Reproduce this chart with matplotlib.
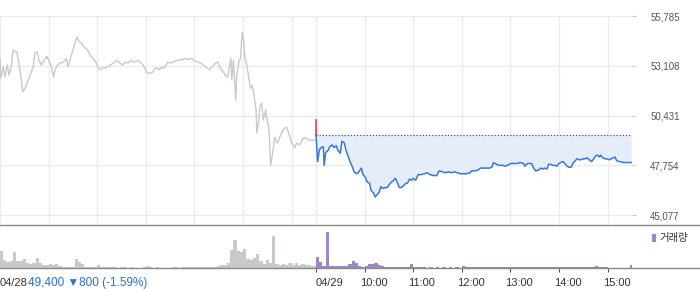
import matplotlib
matplotlib.use("Agg")
import matplotlib.pyplot as plt
from matplotlib.lines import Line2D
from matplotlib.ticker import FuncFormatter

plt.rcParams['font.family'] = ['Liberation Sans', 'DejaVu Sans', 'Noto Sans CJK KR']

# ---- data (minutes since 09:00 of 04/28; 04/29 starts at 390) ----
prev_min = [0, 1, 4, 6, 9, 11, 14, 16, 19, 21, 24, 26, 28, 31, 35, 38, 41, 43, 46, 48,
            51, 53, 56, 58, 61, 63, 66, 68, 71, 74, 78, 82, 84, 87, 90, 93, 95, 98, 100, 104,
            108, 111, 115, 119, 121, 124, 127, 131, 136, 140, 144, 147, 151, 155, 158, 162, 166, 170, 173, 177,
            181, 184, 188, 192, 196, 199, 203, 207, 210, 214, 218, 222, 225, 229, 233, 236, 240, 244, 248, 251,
            255, 259, 262, 266, 269, 271, 273, 276, 278, 281, 283, 285, 286, 288, 291, 292, 295, 297, 298, 299,
            301, 302, 304, 307, 309, 311, 313, 316, 317, 319, 321, 323, 325, 328, 329, 332, 334, 337, 339, 342,
            344, 348, 351, 354, 356, 360, 364, 366, 370, 374, 377, 381, 386, 389]
prev_price = [53500, 52450, 53050, 52500, 53150, 52600, 53050, 53950, 53850, 53850, 53050, 52500, 51700, 51900, 52350, 52700, 53050, 53800, 53850, 53400,
              53150, 53300, 53500, 53600, 53300, 53150, 52500, 52900, 53150, 53250, 53300, 53500, 53050, 53500, 53950, 54400, 54650, 54400, 54350, 54100,
              53950, 53700, 53500, 53250, 53000, 52900, 53000, 53000, 53150, 53250, 53400, 53300, 53150, 53300, 53250, 53400, 53300, 53400, 53300, 53150,
              52750, 52700, 52750, 53000, 52900, 53000, 53000, 53300, 53250, 53300, 53400, 53400, 53450, 53500, 53450, 53500, 53400, 53300, 53250, 53150,
              53000, 52900, 53050, 53250, 53300, 53050, 52900, 52750, 52600, 52500, 53050, 53500, 52350, 53400, 51250, 52500, 53400, 53500, 54350, 54900,
              54350, 53600, 53250, 52500, 51900, 52050, 51650, 50750, 49500, 50050, 50900, 51100, 50200, 50750, 50350, 49650, 47750, 48550, 49250, 48950,
              49100, 49550, 49750, 49800, 49500, 48950, 48700, 48950, 48850, 49200, 49250, 49100, 49100, 49100]

today_min = [390, 392, 394, 396, 399, 400, 402, 405, 407, 410, 412, 415, 417, 420, 422, 425, 427, 430, 432, 435,
             437, 440, 442, 446, 448, 451, 453, 456, 458, 461, 463, 465, 468, 470, 473, 475, 478, 480, 483, 485,
             488, 490, 493, 495, 498, 500, 503, 505, 508, 510, 513, 516, 520, 524, 527, 531, 535, 539, 542, 546,
             550, 553, 557, 561, 564, 568, 572, 576, 580, 582, 586, 590, 593, 597, 600, 604, 607, 609, 613, 616,
             620, 624, 628, 631, 635, 639, 642, 646, 648, 651, 653, 656, 658, 661, 665, 667, 670, 672, 675, 677,
             680, 682, 685, 687, 690, 692, 695, 697, 700, 702, 705, 707, 710, 712, 715, 717, 720, 722, 725, 727,
             730, 732, 735, 737, 740, 741, 744, 747, 749, 752, 754, 757, 759, 761, 764, 766, 769, 772, 779]
today_price = [49400, 47950, 48550, 48700, 48750, 47750, 48450, 48550, 48750, 48850, 48700, 48800, 48550, 48400, 49050, 48950, 48550, 48200, 47950, 47650,
               47400, 47300, 47350, 47600, 47250, 47100, 46850, 46800, 46400, 46250, 46050, 46150, 46300, 46600, 46500, 46550, 46550, 46700, 46850, 46900,
               47050, 46850, 46550, 46550, 46650, 46750, 46800, 47000, 46950, 47050, 46950, 47250, 47250, 47300, 47350, 47250, 47200, 47200, 47450, 47400,
               47350, 47400, 47350, 47400, 47350, 47300, 47300, 47300, 47350, 47450, 47450, 47500, 47600, 47600, 47600, 47600, 47650, 47900, 47800, 47750,
               47750, 47700, 47800, 47850, 47850, 47850, 47900, 47850, 47700, 47850, 47850, 47850, 47650, 47450, 47500, 47600, 47550, 47600, 47550, 47800,
               47800, 47750, 47750, 47700, 47850, 47900, 47950, 47850, 47700, 47650, 47650, 47850, 48000, 48100, 48050, 48050, 48100, 48100, 48150, 48050,
               47950, 48050, 48250, 48300, 48200, 48300, 48150, 48100, 48100, 48050, 48100, 48150, 48200, 48000, 47950, 47950, 47900, 47900, 47900]

first_tick = [49400, 50200]   # opening spike on 04/29
base_price = 49400

# volume per 4-minute bucket
prev_vol = [170, 80, 60, 70, 160, 70, 70, 90, 50, 40, 50, 100, 50, 30, 30, 40, 30, 40, 20, 15,
            15, 10, 15, 90, 60, 40, 15, 10, 10, 10, 30, 10, 8, 8, 8, 8, 5, 10, 10, 5,
            10, 5, 5, 5, 8, 20, 8, 5, 8, 5, 5, 5, 5, 8, 10, 5, 8, 10, 10, 8,
            10, 8, 10, 8, 10, 10, 10, 20, 30, 30, 50, 180, 280, 170, 160, 190, 90, 80, 100, 140,
            70, 40, 80, 50, 320, 40, 30, 40, 30, 50, 30, 50, 30, 40, 30, 30, 25, 20]
today_vol = [110, 60, 20, 360, 25, 20, 20, 25, 20, 25, 40, 70, 50, 20, 15, 20, 45, 40, 55, 35,
             20, 15, 15, 10, 10, 10, 10, 15, 10, 45, 10, 10, 10, 8, 5, 10, 5, 10, 5, 10,
             5, 10, 5, 10, 5, 20, 10, 15, 15, 10, 10, 10, 15, 10, 15, 10, 10, 10, 15, 10,
             10, 10, 15, 10, 15, 10, 10, 10, 15, 10, 15, 10, 15, 10, 15, 10, 10, 15, 15, 10,
             15, 10, 15, 10, 15, 15, 20, 15, 10, 10, 5, 5, 5, 5, 5, 0, 0, 30]

y_ticks = [45077, 47754, 50431, 53108, 55785]
hour_ticks = [450, 510, 570, 630, 690, 750]
hour_labels = ['10:00', '11:00', '12:00', '13:00', '14:00', '15:00']
summary = '49,400 ▼800 (-1.59%)'

W, H = 700, 289
fig = plt.figure(figsize=(7, 2.89), dpi=100)

# ---- price panel ----
ax = fig.add_axes([0, 1 - 225 / H, 632 / W, 209 / H])
ax.set_xlim(0, 780)
ax.set_ylim(44539, 55785)
ax.set_xticks([0, 60, 120, 180, 240, 300, 360, 390] + hour_ticks)
ax.set_yticks(y_ticks)
ax.grid(True, color='#ebebeb', lw=1)
ax.set_axisbelow(True)
for s in ax.spines.values():
    s.set_visible(False)
ax.yaxis.tick_right()
ax.yaxis.set_major_formatter(FuncFormatter(lambda v, p: f'{int(v):,}'))
ax.tick_params(axis='y', length=3, color='#cccccc', labelsize=7, labelcolor='#555555', pad=10)
ax.tick_params(axis='x', length=0, labelbottom=False)

ax.plot(prev_min, prev_price, color='#c8c9cd', lw=1)
ax.fill_between(today_min, today_price, base_price, color='#e5edf9', lw=0)
ax.hlines(base_price, 390, 780, colors='#555555', linestyles=(0, (1, 1.5)), lw=0.9)
ax.plot(today_min, today_price, color='#3778dc', lw=1.1)
ax.plot([390, 390], first_tick, color='#ff2a2a', lw=1.1)

# ---- volume panel ----
axv = fig.add_axes([0, 1 - 268 / H, 632 / W, 40 / H])
axv.set_xlim(0, 780)
axv.set_ylim(0, 400)
prev_t = [4 * i + 2 for i in range(len(prev_vol))]
today_t = [390 + 4 * i + 2 for i in range(len(today_vol))]
axv.bar(prev_t, prev_vol, width=4, color='#c8c9cc', lw=0)
axv.bar(today_t, today_vol, width=4, color='#9b87c9', lw=0)
for s in axv.spines.values():
    s.set_visible(False)
axv.set_yticks([])
axv.set_xticks([390] + hour_ticks)
axv.tick_params(axis='x', length=3, color='#555555', labelbottom=False)

for t, lab in zip(hour_ticks, hour_labels):
    axv.annotate(lab, xy=(t, 0), xycoords=('data', 'axes fraction'), xytext=(-5, -15),
                 textcoords='offset pixels', ha='left', va='center', fontsize=8, color='#333333')
axv.annotate('04/29', xy=(390, 0), xycoords=('data', 'axes fraction'), xytext=(0, -15),
             textcoords='offset pixels', ha='left', va='center', fontsize=8, color='#333333')
fig.text(0, 1 - 283 / H, '04/28', ha='left', va='center', fontsize=8, color='#333333')
fig.text(28 / W, 1 - 283 / H, summary, ha='left', va='center', fontsize=8.5, color='#2a6fdb')

# legend
fig.add_artist(Line2D([654 / W], [1 - 238 / H], marker='|', ms=6, mew=3, color='#9b87c9'))
fig.text(659 / W, 1 - 238 / H, '거래량', ha='left', va='center', fontsize=7.5, color='#333333',
         family=['Noto Sans CJK KR', 'DejaVu Sans'])

# panel borders
fig.add_artist(Line2D([0, 1], [1 - 225 / H] * 2, color='#888888', lw=1))
fig.add_artist(Line2D([0, 1], [1 - 268 / H] * 2, color='#888888', lw=1))

fig.savefig('out.png', dpi=100, facecolor='white')
